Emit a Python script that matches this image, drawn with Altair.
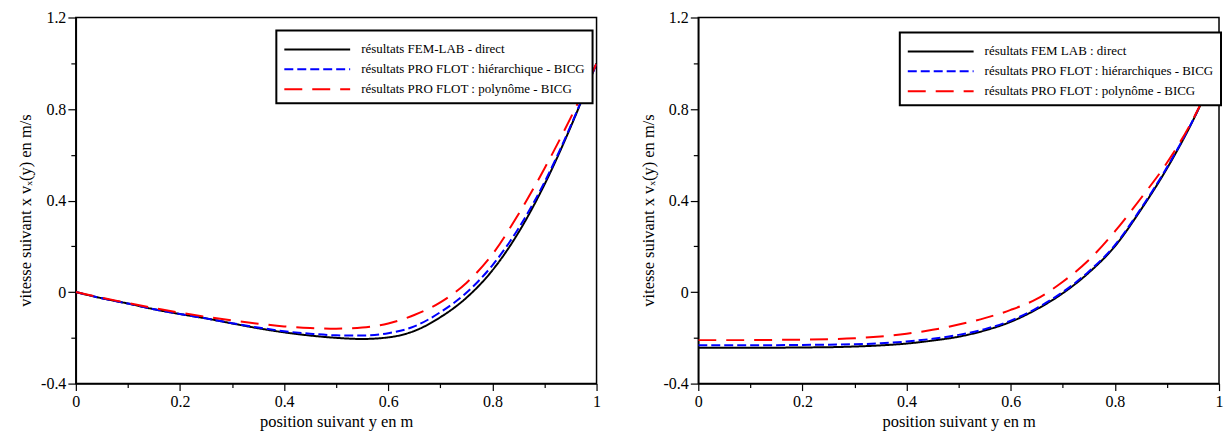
import altair as alt
import pandas as pd

# ---------------- data ----------------
x_pos = [0.0, 0.05, 0.1, 0.15, 0.2, 0.25, 0.3, 0.35, 0.4, 0.45, 0.5,
         0.55, 0.6, 0.65, 0.7, 0.75, 0.8, 0.85, 0.9, 0.95, 1.0]

# left panel
left_fem = [0.0, -0.027, -0.05, -0.075, -0.096, -0.115, -0.137, -0.158, -0.176, -0.19, -0.2,
            -0.205, -0.198, -0.17, -0.11, -0.025, 0.095, 0.26, 0.47, 0.72, 1.0]
left_hier = [0.0, -0.027, -0.05, -0.075, -0.096, -0.115, -0.136, -0.155, -0.171, -0.182, -0.189,
             -0.19, -0.18, -0.15, -0.088, -0.003, 0.117, 0.278, 0.48, 0.725, 1.0]
left_poly = [0.0, -0.025, -0.048, -0.07, -0.09, -0.108, -0.124, -0.138, -0.15, -0.157, -0.16,
             -0.155, -0.137, -0.1, -0.045, 0.04, 0.165, 0.34, 0.54, 0.76, 1.0]

# right panel
right_fem = [-0.243, -0.243, -0.243, -0.243, -0.242, -0.241, -0.238, -0.233, -0.225, -0.212, -0.195,
             -0.168, -0.13, -0.075, -0.005, 0.085, 0.2, 0.36, 0.54, 0.75, 1.0]
right_hier = [-0.232, -0.232, -0.232, -0.232, -0.231, -0.23, -0.228, -0.224, -0.216, -0.204, -0.187,
              -0.162, -0.125, -0.07, 0.0, 0.09, 0.205, 0.365, 0.545, 0.752, 1.0]
right_poly = [-0.21, -0.21, -0.21, -0.209, -0.208, -0.206, -0.202, -0.194, -0.182, -0.165, -0.142,
              -0.114, -0.078, -0.03, 0.045, 0.14, 0.265, 0.41, 0.565, 0.755, 1.0]

labels_left = ["résultats FEM-LAB - direct",
               "résultats PRO FLOT : hiérarchique - BICG",
               "résultats PRO FLOT : polynôme - BICG"]
labels_right = ["résultats FEM LAB : direct",
                "résultats PRO FLOT : hiérarchiques - BICG",
                "résultats PRO FLOT : polynôme - BICG"]

x_ticks = [0.0, 0.1, 0.2, 0.3, 0.4, 0.5, 0.6, 0.7, 0.8, 0.9, 1.0]
y_ticks = [-0.4, -0.2, 0.0, 0.2, 0.4, 0.6, 0.8, 1.0, 1.2]

x_title = "position suivant y en m"
y_title = "vitesse suivant x vₓ(y) en m/s"

colors = ["#000000", "#0000ff", "#ff0000"]
dashes = [[1, 0], [9, 4], [18, 10]]

FONT = "Liberation Serif"


def make_df(labels, series):
    rows = []
    for lab, vals in zip(labels, series):
        for xv, yv in zip(x_pos, vals):
            rows.append({"x": xv, "v": yv, "series": lab})
    return pd.DataFrame(rows)


x_major = "abs(datum.value*5 - round(datum.value*5)) < 0.001"
y_major = "abs(datum.value*2.5 - round(datum.value*2.5)) < 0.001"


def panel(labels, series, lx, ly):
    df = make_df(labels, series)
    leg = alt.Legend(
        title=None, orient="none", legendX=lx, legendY=ly,
        symbolType="M-1,0H5", symbolSize=484, symbolStrokeWidth=2,
        labelFont=FONT, labelFontSize=13, labelColor="black",
        labelLimit=400, labelOffset=54, padding=7, rowPadding=1,
        strokeColor="black", fillColor="white",
    )
    return alt.Chart(df).mark_line(interpolate="monotone", strokeWidth=2, clip=True).encode(
        x=alt.X("x:Q", scale=alt.Scale(domain=[0, 1], nice=False),
                axis=alt.Axis(values=x_ticks, title=x_title,
                              labelExpr=f"({x_major}) ? toString(datum.value) : ''",
                              tickSize={"condition": {"test": x_major, "value": 7}, "value": 4},
                              labelFlush=False, labelOverlap=False, labelPadding=3,
                              titlePadding=4)),
        y=alt.Y("v:Q", scale=alt.Scale(domain=[-0.4, 1.2], nice=False),
                axis=alt.Axis(values=y_ticks, title=y_title,
                              labelExpr=f"({y_major}) ? toString(datum.value) : ''",
                              tickSize={"condition": {"test": y_major, "value": 8}, "value": 5},
                              labelFlush=False, labelOverlap=False, labelPadding=2,
                              titlePadding=7, titleY=193)),
        color=alt.Color("series:N", scale=alt.Scale(domain=labels, range=colors), legend=leg),
        strokeDash=alt.StrokeDash("series:N", scale=alt.Scale(domain=labels, range=dashes), legend=leg),
    ).properties(width=522, height=367)


left = panel(labels_left, [left_fem, left_hier, left_poly], 201, 13)
right = panel(labels_right, [right_fem, right_hier, right_poly], 202, 15)

chart = alt.hconcat(left, right, spacing=37).resolve_scale(
    color="independent", strokeDash="independent"
).resolve_legend(color="independent", strokeDash="independent").properties(
    padding={"left": 8, "top": 0, "right": 0, "bottom": 0},
    background="white",
).configure_view(
    stroke="black", strokeWidth=1.5
).configure_axis(
    grid=False, domainColor="black", domainWidth=1.5, tickColor="black", tickWidth=1.2,
    labelFont=FONT, labelFontSize=16, labelColor="black",
    titleFont=FONT, titleFontSize=16.5, titleFontWeight="normal", titleColor="black",
).configure_legend(
    strokeWidth=2
)

chart.save("out.html", embed_options={"renderer": "svg", "actions": False})
